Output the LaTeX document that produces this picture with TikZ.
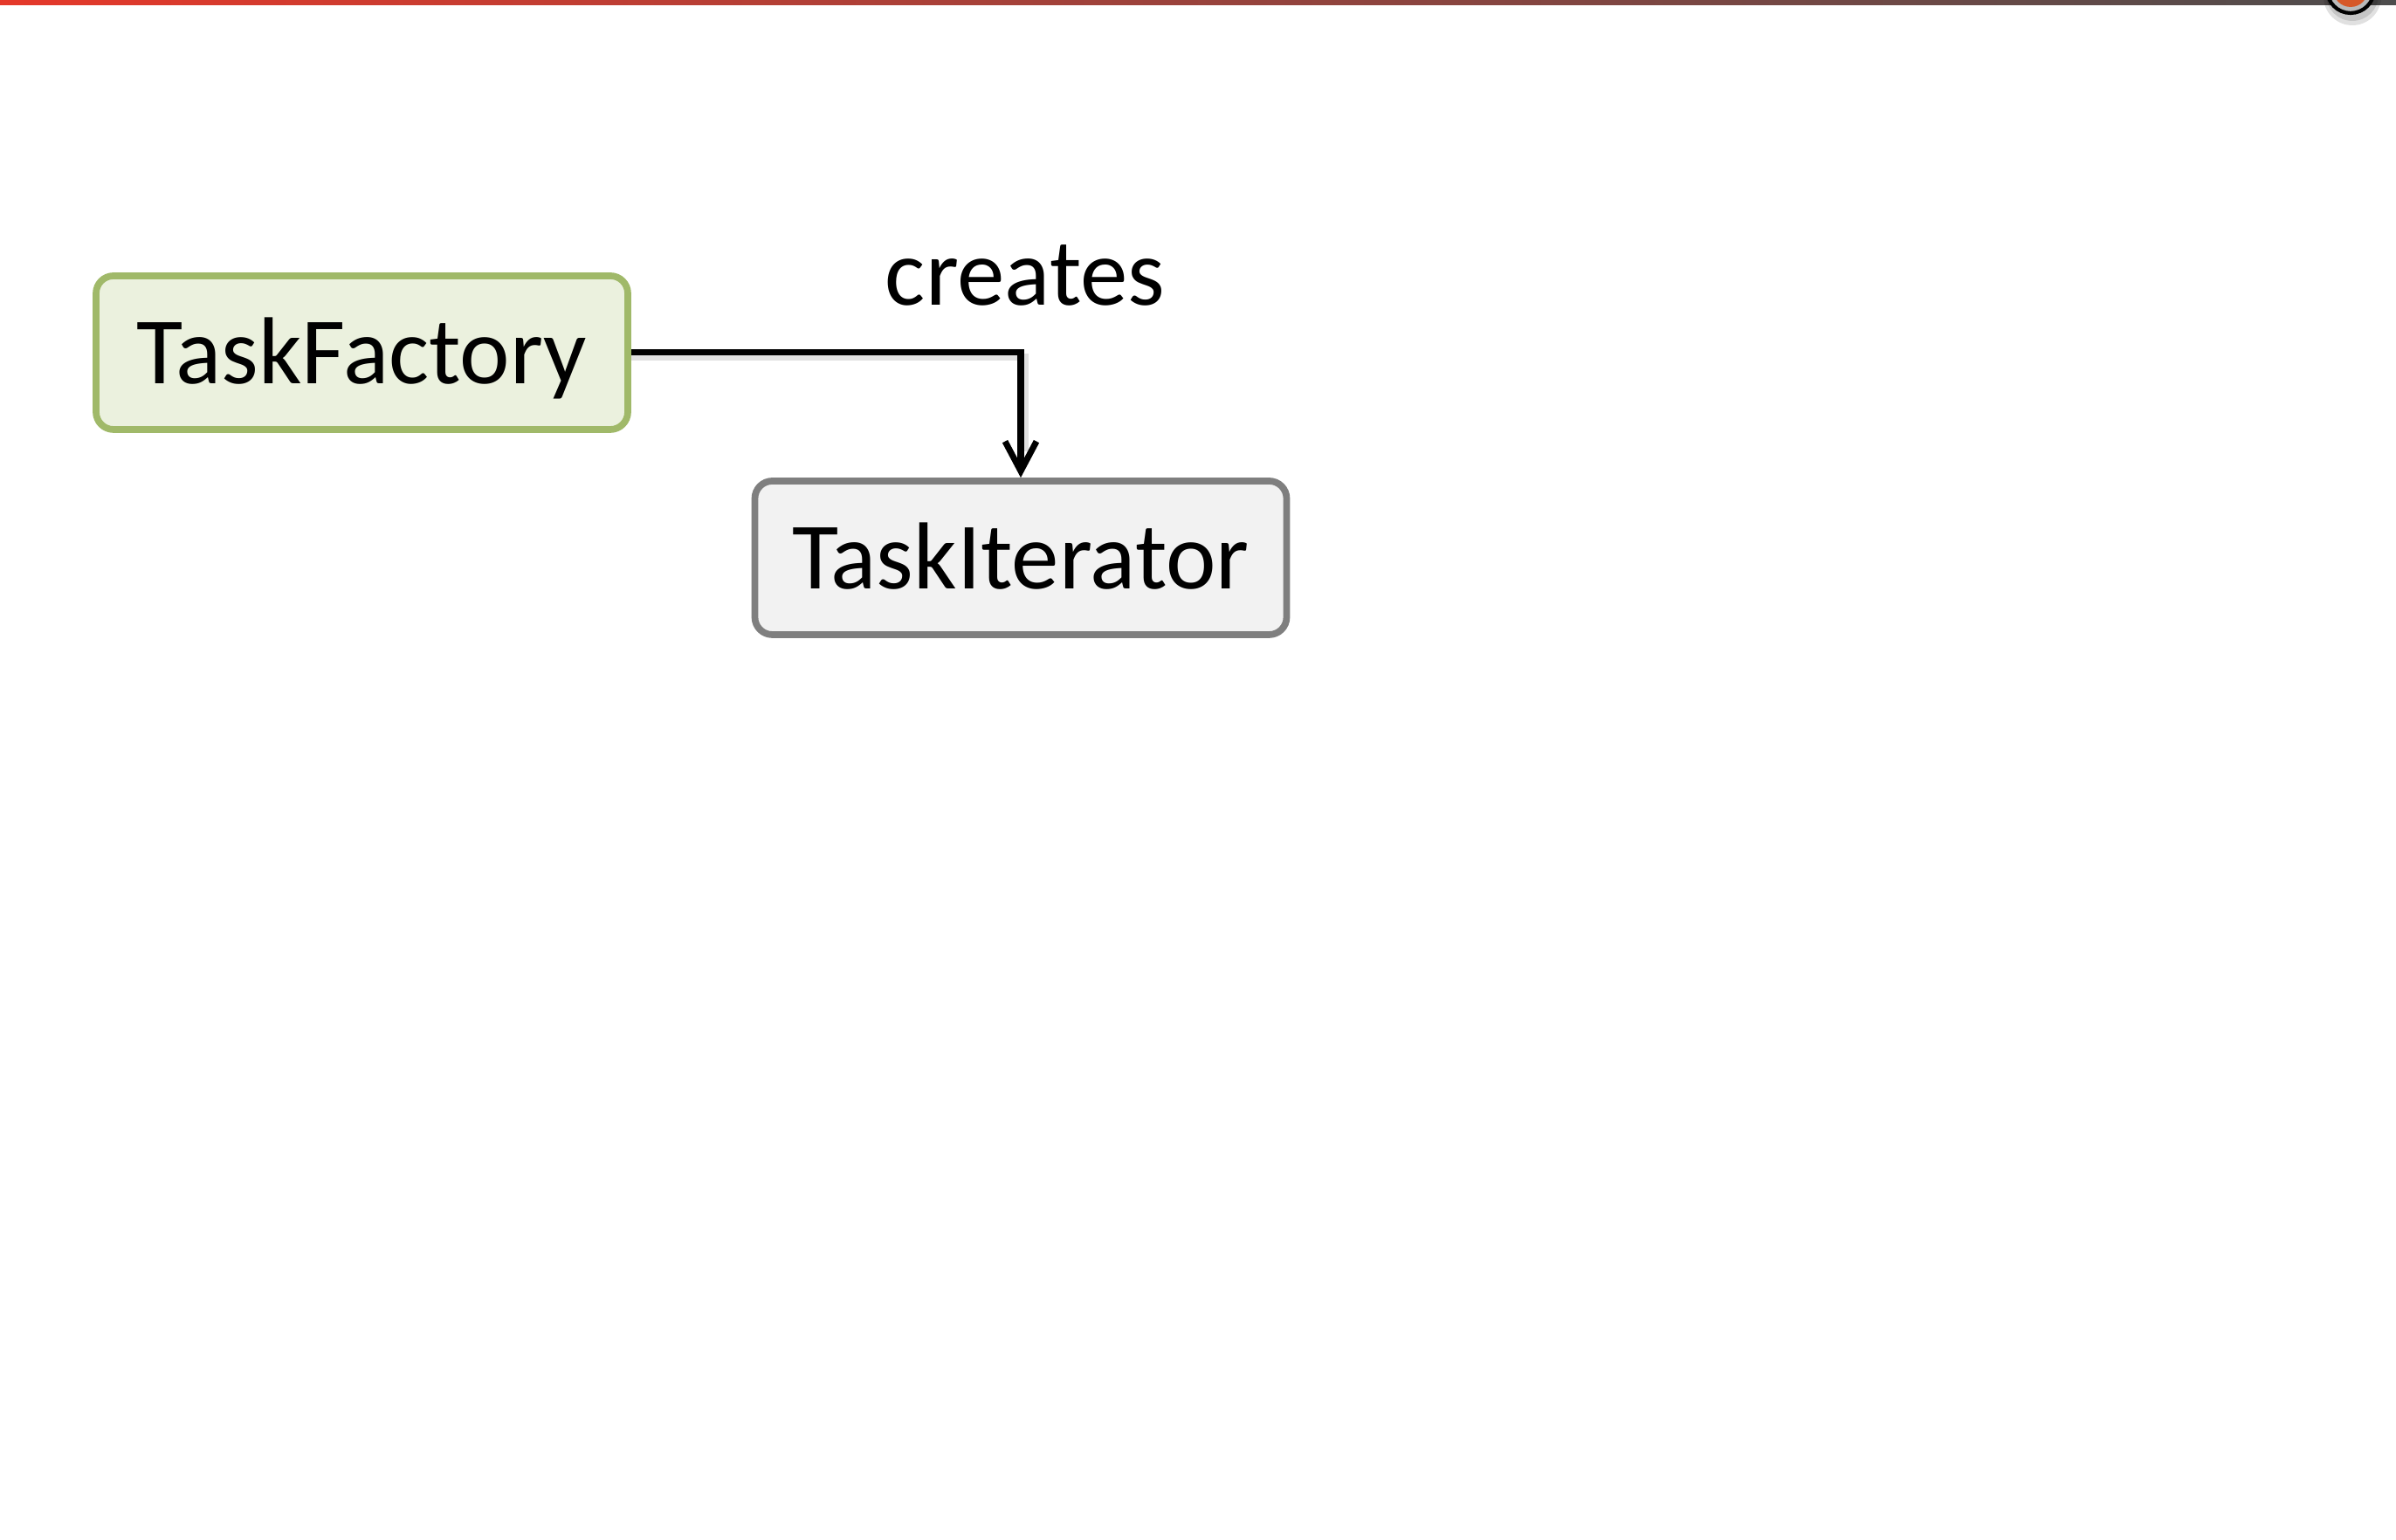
\documentclass[tikz,border=0pt]{standalone}
\usepackage{fontspec}
\setmainfont{Carlito}
\usetikzlibrary{arrows.meta}
\definecolor{tfFill}{RGB}{235,241,222}
\definecolor{tfDraw}{RGB}{160,185,105}
\definecolor{tiFill}{RGB}{242,242,242}
\definecolor{tiDraw}{RGB}{127,127,127}
\definecolor{barRed}{RGB}{229,56,42}
\definecolor{barGray}{RGB}{77,77,77}
\definecolor{knob}{RGB}{214,88,40}
\tikzset{
  box/.style={rectangle, rounded corners=0.2cm, line width=2.2pt,
    minimum width=6.09cm, minimum height=1.76cm, inner sep=0pt,
    text height=0.9cm, text depth=0.18cm,
    font=\fontsize{31}{36}\selectfont},
  factorybox/.style={box, draw=tfDraw, fill=tfFill},
  iterbox/.style={box, draw=tiDraw, fill=tiFill},
  conn/.style={line width=2pt, -{Straight Barb[length=0.34cm, width=0.36cm, line width=2pt]}},
  lbl/.style={font=\fontsize{31}{36}\selectfont, inner sep=0pt}
}
\begin{document}
\begin{tikzpicture}
\useasboundingbox (0,0) rectangle (27.44,17.64);
% top bar
\shade[left color=barRed, right color=barGray] (0,17.58) rectangle (27.44,17.64);
% knob at top right
\fill[black, opacity=0.12] (26.94,17.68) circle (0.33);
\fill[black, opacity=0.12] (26.94,17.70) circle (0.30);
\draw[black, line width=1.2pt, fill=gray!55] (26.92,17.76) circle (0.27);
\fill[knob] (26.92,17.76) circle (0.2);
% nodes
\node[factorybox] (tf) at (4.145,13.60) {TaskFactory};
\node[iterbox] (ti) at (11.69,11.25) {TaskIterator};
\node[lbl, anchor=base] (cr) at (11.74,14.14) {creates};
% connector shadow + connector
\draw[line width=2.5pt, black, opacity=0.12] ([yshift=-0.05cm]tf.east) -| ([xshift=0.05cm,yshift=0.3cm]ti.north);
\draw[conn] (tf.east) -| (ti.north);
\end{tikzpicture}
\end{document}
